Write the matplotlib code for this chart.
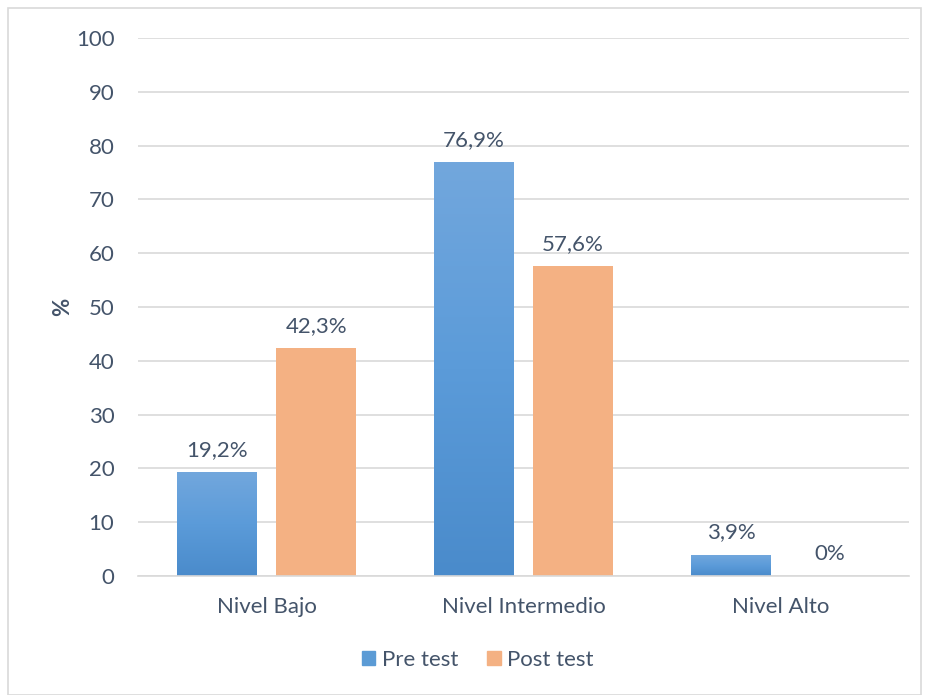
import numpy as np
import matplotlib.pyplot as plt
from matplotlib.colors import LinearSegmentedColormap
from matplotlib.patches import Rectangle, Patch

categories = ["Nivel Bajo", "Nivel Intermedio", "Nivel Alto"]
pre_test = [19.2, 76.9, 3.9]
post_test = [42.3, 57.6, 0.0]
pre_labels = ["19,2%", "76,9%", "3,9%"]
post_labels = ["42,3%", "57,6%", "0%"]

txt = "#44546A"
orange = "#F4B183"
blue = "#5B9BD5"
blue_cmap = LinearSegmentedColormap.from_list("blue", ["#4A8BCB", "#5B9BD9", "#72A7DD"])

plt.rcParams["font.family"] = ["Lato", "DejaVu Sans"]
fs = 16

fig = plt.figure(figsize=(9.29, 6.95), dpi=100)
ax = fig.add_axes([0.1486, 0.1712, 0.8299, 0.7741])

x = np.arange(len(categories)) + 0.5
w = 0.311
off = 0.193

pre_bars = ax.bar(x - off, pre_test, w, color=blue, zorder=2)
post_bars = ax.bar(x + off, post_test, w, color=orange, zorder=2)

# gradient fill for the blue bars
grad = np.linspace(0, 1, 256).reshape(-1, 1)
for b in pre_bars:
    bx, by = b.get_x(), b.get_y()
    bw, bh = b.get_width(), b.get_height()
    ax.imshow(grad, cmap=blue_cmap, origin="lower", aspect="auto",
              extent=[bx, bx + bw, by, by + bh], zorder=2.5)
    b.set_facecolor("none")

for b, lab in zip(pre_bars, pre_labels):
    ax.annotate(lab, (b.get_x() + b.get_width() / 2, b.get_height()),
                xytext=(0, 9), textcoords="offset points", ha="center",
                va="bottom", color=txt, fontsize=fs)
for b, lab in zip(post_bars, post_labels):
    ax.annotate(lab, (b.get_x() + b.get_width() / 2, b.get_height()),
                xytext=(0, 9), textcoords="offset points", ha="center",
                va="bottom", color=txt, fontsize=fs)

ax.set_xlim(0, 3)
ax.set_ylim(0, 100)
ax.set_yticks(range(0, 101, 10))
ax.set_xticks(x)
ax.set_xticklabels(categories)
ax.grid(axis="y", color="#D9D9D9", linewidth=1.2, zorder=0)
for s in ["top", "right", "left"]:
    ax.spines[s].set_visible(False)
ax.spines["bottom"].set_color("#D9D9D9")
ax.spines["bottom"].set_linewidth(1.2)
ax.tick_params(axis="both", length=0, labelsize=fs, labelcolor=txt)
ax.tick_params(axis="y", pad=17)
ax.tick_params(axis="x", pad=15)
ax.set_ylabel("%", fontsize=fs, fontweight="bold", color=txt, labelpad=2)

handles = [Patch(color=blue, label="Pre test"), Patch(color=orange, label="Post test")]
fig.legend(handles=handles, loc="center", bbox_to_anchor=(478 / 929, 1 - 660 / 695),
           ncol=2, frameon=False, fontsize=fs, labelcolor=txt, handlelength=0.6,
           handleheight=0.6, handletextpad=0.3, columnspacing=1.3)

fig.patches.append(Rectangle((8 / 929, 0.0), 1 - 16 / 929, 1 - 8 / 695,
                             transform=fig.transFigure, fill=False,
                             edgecolor="#D9D9D9", linewidth=1.2))

fig.savefig("out.png", dpi=100)
